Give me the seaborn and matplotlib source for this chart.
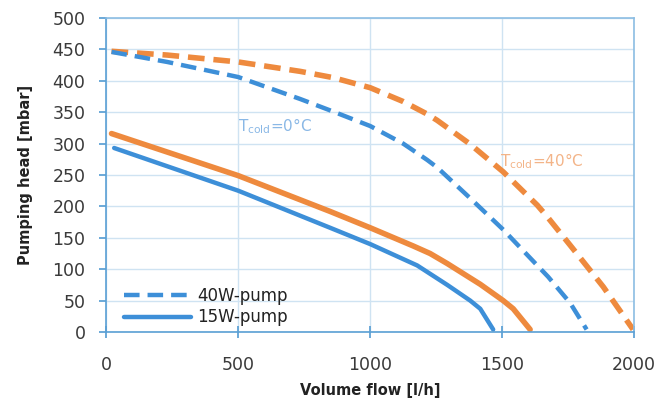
import numpy as np
import pandas as pd
import matplotlib
matplotlib.use("Agg")
import matplotlib.pyplot as plt
import seaborn as sns

# Data
flow_40w_cold = [20, 231, 500, 735, 860, 1000, 1125, 1216, 1254, 1379, 1504, 1633, 1674, 1758, 1820]
head_40w_cold = [446, 430, 406, 371, 351, 328, 300, 274, 262, 213, 163, 106, 88, 46, 4]

flow_40w_warm = [20, 231, 500, 735, 860, 1000, 1125, 1216, 1254, 1379, 1504, 1633, 1670, 1758, 1883, 1996]
head_40w_warm = [447, 441, 430, 415, 405, 389, 367, 347, 337, 299, 255, 202, 184, 138, 72, 4]

flow_15w_warm = [20, 500, 848, 1000, 1163, 1227, 1292, 1417, 1504, 1542, 1606]
head_15w_warm = [316, 249, 192, 166, 137, 125, 109, 76, 50, 37, 4]

flow_15w_cold = [30, 500, 848, 1000, 1178, 1292, 1379, 1417, 1466]
head_15w_cold = [293, 225, 166, 140, 106, 75, 50, 37, 4]

x_ticks = [0, 500, 1000, 1500, 2000]
y_ticks = [0, 50, 100, 150, 200, 250, 300, 350, 400, 450, 500]

BLUE = "#3d8fd8"
ORANGE = "#ee8a3e"
GRID = "#cfe3f2"
SPINE = "#8cbde3"
AXIS = "#5a9fd4"

sns.set_theme(style="white")
plt.rcParams['font.family'] = ['DejaVu Sans']

fig = plt.figure(figsize=(6.64, 4.0), dpi=100)
ax = fig.add_axes([0.16, 0.17, 0.795, 0.785])

def series(x, y):
    return pd.DataFrame({"flow": x, "head": y})

sns.lineplot(data=series(flow_40w_warm, head_40w_warm), x="flow", y="head", ax=ax,
             color=ORANGE, lw=4, linestyle=(0, (3, 1.6)))
sns.lineplot(data=series(flow_40w_cold, head_40w_cold), x="flow", y="head", ax=ax,
             color=BLUE, lw=3.2, linestyle=(0, (3.5, 1.8)), label="40W-pump")
sns.lineplot(data=series(flow_15w_warm, head_15w_warm), x="flow", y="head", ax=ax,
             color=ORANGE, lw=4)
sns.lineplot(data=series(flow_15w_cold, head_15w_cold), x="flow", y="head", ax=ax,
             color=BLUE, lw=3.2, label="15W-pump")

ax.set_xlim(0, 2000)
ax.set_ylim(0, 500)
ax.set_xticks(x_ticks)
ax.set_yticks(y_ticks)
ax.grid(True, color=GRID, lw=1)
ax.set_axisbelow(True)
for s in ax.spines.values():
    s.set_color(SPINE)
    s.set_linewidth(1.2)
ax.spines['left'].set_color(AXIS)
ax.spines['bottom'].set_color(AXIS)
ax.tick_params(axis='y', which='both', left=True, length=5, color=AXIS,
               labelsize=12.5, labelcolor="#3a3a3a", pad=10)
ax.tick_params(axis='x', which='both', bottom=True, direction='inout', length=8,
               color=AXIS, labelsize=12.5, labelcolor="#3a3a3a", pad=13)

ax.set_xlabel("Volume flow [l/h]", fontsize=10.5, fontweight='bold',
              color="#222222", labelpad=7)
ax.set_ylabel("Pumping head [mbar]", fontsize=10.5, fontweight='bold',
              color="#222222", labelpad=14)

ax.text(500, 328, r"T$_{\mathrm{cold}}$=0°C", color="#8ab8e6", fontsize=11, va='center', ha='left')
ax.text(1490, 272, r"T$_{\mathrm{cold}}$=40°C", color="#f3b488", fontsize=11, va='center', ha='left')

leg = ax.legend(loc='lower left', bbox_to_anchor=(0.005, -0.03), frameon=False,
                fontsize=12, handlelength=4.0, handletextpad=0.4, labelspacing=0.2)
for t in leg.get_texts():
    t.set_color("#222222")

fig.savefig("out.png", dpi=100, facecolor="white")
